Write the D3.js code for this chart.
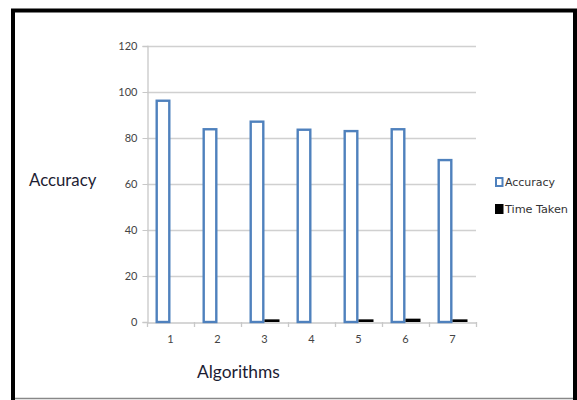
<!DOCTYPE html>
<html><head><meta charset="utf-8">
<script src="https://cdn.jsdelivr.net/npm/d3@7"></script>
<style>body{margin:0;background:#fff}svg{display:block}</style>
</head><body>
<script>
const categories = ["1","2","3","4","5","6","7"];
const accuracy = [96.2, 83.8, 87.1, 83.6, 83.0, 83.8, 70.4];
const timeTaken = [0, 0, 0.5, 0, 0.5, 0.8, 0.5];
const seriesNames = ["Accuracy", "Time Taken"];
const yTicks = [0, 20, 40, 60, 80, 100, 120];

const W = 577, H = 400;
const svg = d3.select("body").append("svg").attr("width", W).attr("height", H);
svg.append("rect").attr("width", W).attr("height", H).attr("fill", "#fff");

// frame
svg.append("rect").attr("x", 13).attr("y", 10.5).attr("width", 562).attr("height", 400)
  .attr("fill", "none").attr("stroke", "#000").attr("stroke-width", 4);
svg.append("line").attr("x1", 15).attr("x2", 573).attr("y1", 398.5).attr("y2", 398.5)
  .attr("stroke", "#888").attr("stroke-width", 1.5);

const pL = 147, pR = 476, pT = 46, pB = 322;
const x = d3.scaleBand().domain(categories).range([pL, pR]).paddingInner(0).paddingOuter(0);
const y = d3.scaleLinear().domain([0, 120]).range([pB, pT]);

// gridlines
svg.append("g").selectAll("line").data(yTicks.filter(d => d > 0)).join("line")
  .attr("x1", pL).attr("x2", pR)
  .attr("y1", d => Math.round(y(d)) + 0.5).attr("y2", d => Math.round(y(d)) + 0.5)
  .attr("stroke", "#d0d0d0").attr("stroke-width", 1.3);

// y axis
const yAxis = svg.append("g").attr("transform", `translate(${pL + 0.5},0)`)
  .call(d3.axisLeft(y).tickValues(yTicks).tickSize(5).tickPadding(5));
yAxis.select(".domain").attr("stroke", "#c8c8c8").attr("stroke-width", 1.3);
yAxis.selectAll(".tick line").attr("stroke", "#c8c8c8");
yAxis.selectAll("text").attr("fill", "#444").style("font-family", "Lato, 'Open Sans', sans-serif").style("font-size", "11px");

// x axis
const xAxis = svg.append("g").attr("transform", `translate(0,${pB + 0.5})`)
  .call(d3.axisBottom(x).tickSize(0).tickPadding(13));
xAxis.select(".domain").attr("stroke", "#c8c8c8").attr("stroke-width", 1.3);
xAxis.selectAll("text").attr("fill", "#444").style("font-family", "Lato, 'Open Sans', sans-serif").style("font-size", "11px");
// category boundary ticks
svg.append("g").selectAll("line").data(categories).join("line")
  .attr("x1", d => x(d) + 0.5).attr("x2", d => x(d) + 0.5)
  .attr("y1", pB).attr("y2", pB + 5)
  .attr("stroke", "#c8c8c8").attr("stroke-width", 1.3);
svg.append("line").attr("x1", pR + 0.5).attr("x2", pR + 0.5)
  .attr("y1", pB).attr("y2", pB + 5).attr("stroke", "#c8c8c8").attr("stroke-width", 1.3);

const bw = 15, off = 8.5;
// accuracy bars
svg.append("g").selectAll("rect").data(accuracy).join("rect")
  .attr("x", (d, i) => x(categories[i]) + off + 1.2)
  .attr("y", d => y(d))
  .attr("width", bw - 2.4)
  .attr("height", d => pB - y(d))
  .attr("fill", "#fff").attr("stroke", "#4f81bd").attr("stroke-width", 2.4);
// time bars
svg.append("g").selectAll("rect").data(timeTaken).join("rect")
  .attr("x", (d, i) => x(categories[i]) + off + bw)
  .attr("y", d => y(d) - 1.5)
  .attr("width", bw)
  .attr("height", d => d > 0 ? pB - y(d) + 1.5 : 0)
  .attr("fill", "#000");

// axis titles
svg.append("text").attr("x", 29).attr("y", 186).text("Accuracy")
  .attr("fill", "#1d1d33").style("font-family", "Lato, 'Open Sans', sans-serif").style("font-size", "16.8px");
svg.append("text").attr("x", 197).attr("y", 378).text("Algorithms")
  .attr("fill", "#1d1d33").style("font-family", "Lato, 'Open Sans', sans-serif").style("font-size", "17.4px");

// legend
const lg = svg.append("g");
lg.append("rect").attr("x", 496).attr("y", 178).attr("width", 6.5).attr("height", 8)
  .attr("fill", "#fff").attr("stroke", "#4f81bd").attr("stroke-width", 2);
lg.append("rect").attr("x", 495).attr("y", 204).attr("width", 8.5).attr("height", 10).attr("fill", "#000");
lg.selectAll("text").data(seriesNames).join("text")
  .attr("x", 505).attr("y", (d, i) => 186 + i * 27)
  .text(d => d)
  .attr("fill", "#333").style("font-family", "'Liberation Sans Narrow', 'DejaVu Sans Condensed', sans-serif")
  .style("font-size", "11px").attr("textLength", (d, i) => i === 0 ? 50 : 63).attr("lengthAdjust", "spacingAndGlyphs");
</script>
</body></html>
